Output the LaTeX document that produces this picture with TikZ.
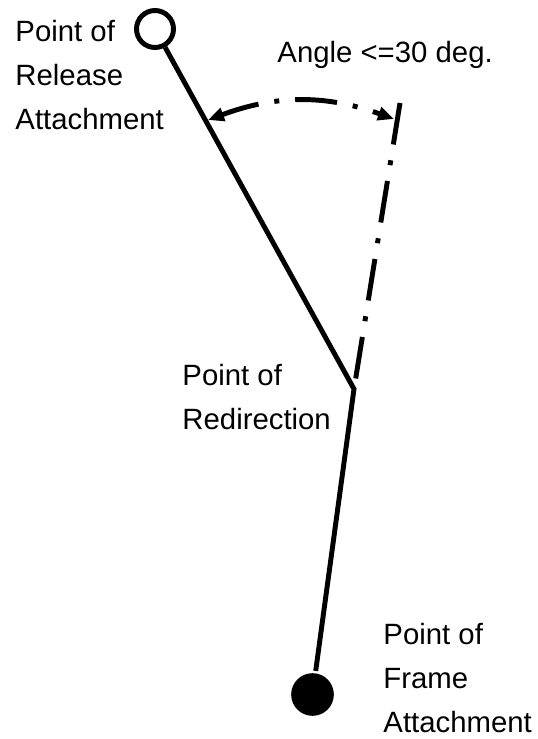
\documentclass[tikz,border=0pt]{standalone}
\usepackage{fontspec}
\setmainfont{Liberation Sans}
\usetikzlibrary{arrows.meta}

\begin{document}
\begin{tikzpicture}[x=0.75pt, y=0.75pt, line width=3.7pt, >={Triangle[length=12pt, width=10pt]},
		rope/.style={line join=miter},
		dashdot/.style={dash pattern=on 31.5pt off 12pt on 3.75pt off 12pt},
		note/.style={font=\fontsize{22}{33}\selectfont, align=left, anchor=base west, inner sep=0pt}]
		\useasboundingbox (0, 0) rectangle (538, -739);
		
		\node[draw, circle, inner sep=0pt, minimum size=27.75pt] (release) at (155, -29) {};
		\node[fill, circle, inner sep=0pt, minimum size=32pt] (frame) at (312.5, -694.5) {};
		\coordinate (redirect) at (354, -389);
		\coordinate (limit) at (400, -103);
		\coordinate (from) at (208, -120);
		\coordinate (to) at (394, -119);
		
		\draw[rope] (release) -- (redirect) -- (frame);
		\draw[dashdot] (limit) -- (redirect);
		\draw[dashdot, dash phase=3pt, <->] (from) to[bend left=20] (to);
		
		% base anchor sits on the last line
		\node[note] (releasetext) at (13, -129) {Point of\\Release\\Attachment};
		\node[note] (angletext) at (275, -62) {Angle <=30 deg.};
		\node[note] (redirecttext) at (180, -429) {Point of\\Redirection};
		\node[note] (frametext) at (381, -732) {Point of\\Frame\\Attachment};
	\end{tikzpicture}
\end{document}
